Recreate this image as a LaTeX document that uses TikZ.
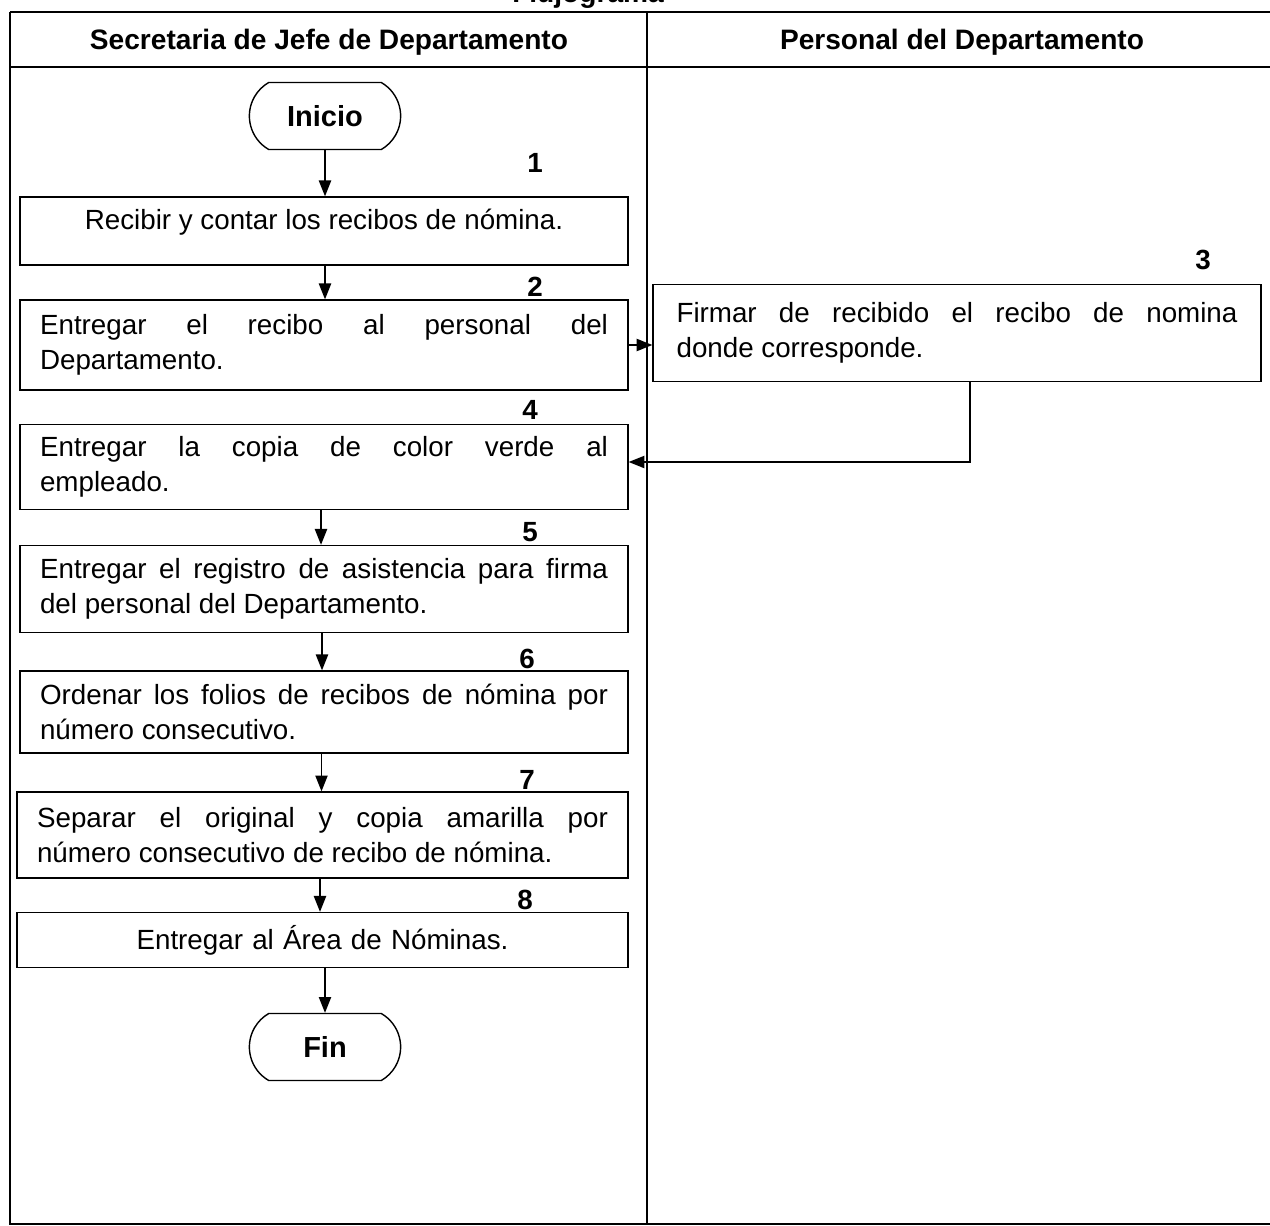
\documentclass[tikz,border=0pt]{standalone}
\usepackage{fontspec}
\setmainfont{Liberation Sans}
\usetikzlibrary{arrows.meta,shapes.misc}
\tolerance=10000
\hyphenpenalty=10000
\exhyphenpenalty=10000
\begin{document}
\begin{tikzpicture}[x=0.02cm,y=-0.02cm,
  every node/.style={font=\fontsize{15.8}{19.9}\selectfont},
  frame/.style={line width=1.3pt},
  proc/.style={draw,line width=0.8pt,minimum width=12.16cm,inner sep=0pt,text width=11.36cm,align=justify},
  procc/.style={draw,line width=0.8pt,minimum width=12.16cm,inner sep=0pt,text width=11.36cm,align=center},
  term/.style={draw,line width=0.8pt,rounded rectangle,rounded rectangle arc length=120,minimum width=3.14cm,minimum height=1.34cm,font=\fontsize{16.5}{20}\selectfont\bfseries},
  num/.style={font=\fontsize{15.8}{19.9}\selectfont\bfseries},
  head/.style={font=\fontsize{16}{20}\selectfont\bfseries},
  arr/.style={line width=0.8pt,-{Triangle[length=9pt,width=7pt]}}
]
\useasboundingbox (0,0) rectangle (1270,1226);
% title (partly cut)
\node[font=\fontsize{16}{20}\selectfont\bfseries,anchor=base] (title) at (588,3) {Flujograma};
% frame
\draw[frame] (10,12) -- (1272,12);
\draw[frame] (10,12) -- (10,1224) -- (1272,1224);
\draw[line width=0.8pt] (10,67) -- (1272,67);
\draw[line width=0.8pt] (647,12) -- (647,1224);
\node[head] (h1) at (329,42) {Secretaria de Jefe de Departamento};
\node[head] (h2) at (962,42) {Personal del Departamento};
% flow
\node[term,minimum width=3.26cm] (ini) at (325,116) {Inicio};
\node[procc,minimum height=1.36cm] (b1) at (324,231) {};
\node (b1t) at (324,222) {Recibir y contar los recibos de nómina.};
\node[proc,minimum height=1.8cm] (b2) at (324,345) {Entregar el recibo al personal del\linebreak Departamento.};
\node[proc,minimum height=1.94cm,text width=11.22cm] (b3) at (957,333) {Firmar de recibido el recibo de nomina\linebreak donde corresponde.};
\node[proc,minimum height=1.7cm] (b4) at (324,467) {Entregar la copia de color verde al\linebreak empleado.};
\node[proc,minimum height=1.74cm] (b5) at (324,589) {Entregar el registro de asistencia para firma\linebreak del personal del Departamento.};
\node[proc,minimum height=1.64cm] (b6) at (324,712) {Ordenar los folios de recibos de nómina por\linebreak número consecutivo.};
\node[proc,minimum height=1.72cm,minimum width=12.22cm,text width=11.42cm] (b7) at (322.5,835) {Separar el original y copia amarilla por\linebreak número consecutivo de recibo de nómina.};
\node[procc,minimum height=1.1cm,minimum width=12.22cm] (b8) at (322.5,940) {Entregar al Área de Nóminas.};
\node[term,minimum width=3.26cm] (fin) at (325,1047) {Fin};
% numbers
\node[num] (n1) at (535,163) {1};
\node[num] (n2) at (535,287) {2};
\node[num] (n3) at (1203,260) {3};
\node[num] (n4) at (530,410) {4};
\node[num] (n5) at (530,532) {5};
\node[num] (n6) at (527,659) {6};
\node[num] (n7) at (527,780) {7};
\node[num] (n8) at (525,900) {8};
% arrows
\draw[arr] (ini.south) -- (ini.south |- b1.north);
\draw[arr] (b1.south -| ini.south) -- (ini.south |- b2.north);
\draw[arr] (b2.east) -- (b2.east -| b3.west);
\coordinate (c3) at (970,462);
\draw[arr] (b3.south -| c3) -- (c3) -- (c3 -| b4.east);
\draw[arr] ([xshift=-3*0.02cm]b4.south) -- ([xshift=-3*0.02cm]b4.south |- b5.north);
\draw[arr] ([xshift=-2*0.02cm]b5.south) -- ([xshift=-2*0.02cm]b5.south |- b6.north);
\draw[arr] ([xshift=-2.5*0.02cm]b6.south) -- ([xshift=-2.5*0.02cm]b6.south |- b7.north);
\draw[arr] ([xshift=-2.5*0.02cm]b7.south) -- ([xshift=-2.5*0.02cm]b7.south |- b8.north);
\draw[arr] (b8.south -| fin.north) -- (fin.north);
\end{tikzpicture}
\end{document}
